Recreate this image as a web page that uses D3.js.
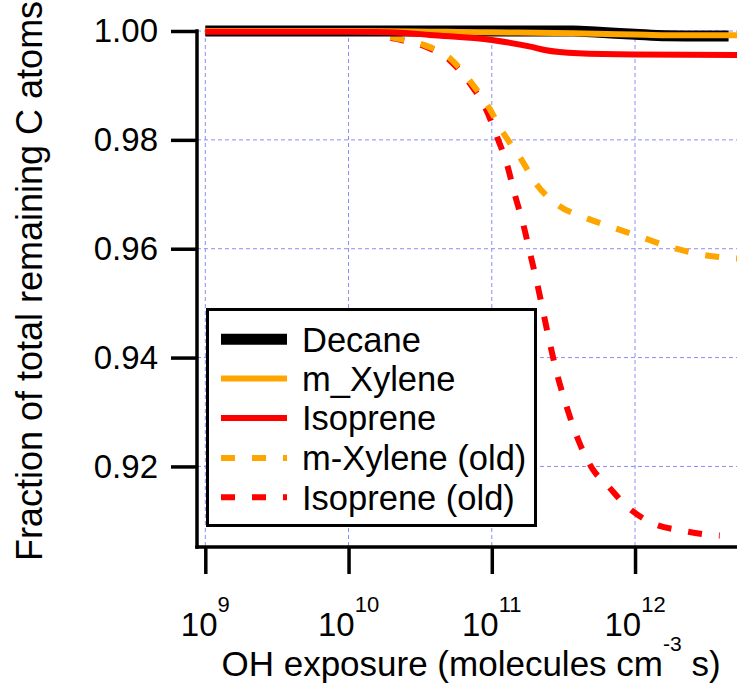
<!DOCTYPE html>
<html>
<head>
<meta charset="utf-8">
<script src="https://cdn.jsdelivr.net/npm/d3@7"></script>
<style>
  html, body { margin: 0; padding: 0; background: #fff; }
  svg { display: block; font-family: "Liberation Sans", Arial, sans-serif; }
</style>
</head>
<body>
<svg id="chart" width="737" height="689"></svg>
<script>
// ---------------- data ----------------
const xTicks = [1e9, 1e10, 1e11, 1e12];
const xTickExponents = ["9", "10", "11", "12"];
const yTicks = [1.00, 0.98, 0.96, 0.94, 0.92];

const decaneX = [1e9, 1e10, 1e11, 3.7e11, 5.6e11, 1e12, 1.66e12, 4.5e12];
const decaneY = [1.0, 1.0, 1.0, 1.0, 0.99975, 0.9994, 0.99912, 0.99908];

const mXyleneX = [1e9, 1e10, 1e11, 3.7e11, 1e12, 1.66e12, 5.2e12];
const mXyleneY = [1.0, 1.0, 0.99975, 0.9996, 0.99935, 0.99922, 0.9992];

const isopreneX = [1e9, 1e10, 2.3e10, 3.7e10, 1e11, 1.86e11, 2.34e11, 4e11, 1e12, 5.2e12];
const isopreneY = [0.99988, 0.99985, 0.99969, 0.99927, 0.99835, 0.99712, 0.99651, 0.9959, 0.99568, 0.99559];

const mXyleneOldX = [1e9, 1e10, 1.5e10, 1.95e10, 3.4e10, 5.1e10, 7.1e10, 9.5e10, 1.2e11, 1.58e11,
  2.07e11, 2.9e11, 4.5e11, 7.2e11, 1.14e12, 1.82e12, 2.95e12, 4.5e12, 5.2e12];
const mXyleneOldY = [1.0, 0.99998, 0.9997, 0.9989, 0.9974, 0.9950, 0.9907, 0.9860, 0.9813, 0.9767,
  0.9717, 0.9680, 0.9657, 0.9638, 0.9620, 0.9602, 0.9589, 0.9583, 0.9582];

const isopreneOldX = [1e9, 1e10, 1.5e10, 1.95e10, 3.4e10, 5.1e10, 7.1e10, 8.98e10, 1.09e11, 1.28e11,
  1.45e11, 1.65e11, 1.85e11, 2.07e11, 2.47e11, 2.81e11, 3.3e11, 4.01e11, 5.09e11, 6.38e11,
  8.81e11, 1.32e12, 2.14e12, 3.44e12, 3.9e12];
const isopreneOldY = [1.0, 0.99998, 0.9997, 0.9988, 0.9972, 0.9946, 0.9902, 0.9860, 0.9805, 0.9754,
  0.9699, 0.9647, 0.9592, 0.9537, 0.9442, 0.9377, 0.9313, 0.9249, 0.9194, 0.9166,
  0.9126, 0.9096, 0.9082, 0.9074, 0.9073];

const seriesNames = ["Decane", "m_Xylene", "Isoprene", "m-Xylene (old)", "Isoprene (old)"];
const seriesColors = ["#000000", "#FFA500", "#FF0000", "#FFA500", "#FF0000"];

// ---------------- layout ----------------
const svg = d3.select("#chart");
const W = 737, H = 689;
const plot = { left: 205.3, right: 737, top: 31, bottom: 547 };
const axisX = 197;      // y-axis line position
const axisY = 547;      // x-axis line position

const x = d3.scaleLog().domain([1e9, 5.15e12]).range([plot.left, plot.right]);
const y = d3.scaleLinear().domain([0.9052, 1.0]).range([plot.bottom, plot.top]);

const gridColor = "#8c8cf8";

// grid
const grid = svg.append("g");
grid.selectAll("line.vg").data(xTicks).enter().append("line")
  .attr("x1", d => x(d)).attr("x2", d => x(d))
  .attr("y1", y(1.0)).attr("y2", plot.bottom)
  .attr("stroke", gridColor).attr("stroke-width", 1).attr("stroke-dasharray", "4,3");
grid.selectAll("line.hg").data(yTicks).enter().append("line")
  .attr("x1", axisX).attr("x2", W)
  .attr("y1", d => y(d)).attr("y2", d => y(d))
  .attr("stroke", gridColor).attr("stroke-width", 1).attr("stroke-dasharray", "4,3");

// axes
const yAxis = d3.axisLeft(y).tickValues(yTicks).tickSize(26).tickPadding(13)
  .tickFormat(d3.format(".2f"));
const gy = svg.append("g").attr("transform", `translate(${axisX},0)`).call(yAxis);
gy.select(".domain").remove();
gy.selectAll(".tick line").attr("stroke", "#000").attr("stroke-width", 3.5);
gy.selectAll(".tick text").attr("font-size", 33).attr("fill", "#000")
  .attr("font-family", "Liberation Sans, Arial, sans-serif");

const xAxis = d3.axisBottom(x).tickValues(xTicks).tickSize(27).tickFormat("");
const gx = svg.append("g").attr("transform", `translate(0,${axisY})`).call(xAxis);
gx.select(".domain").remove();
gx.selectAll(".tick line").attr("stroke", "#000").attr("stroke-width", 3.5);

// axis lines
svg.append("line").attr("x1", axisX).attr("x2", axisX)
  .attr("y1", y(1.0) - 1.75).attr("y2", axisY + 1.75)
  .attr("stroke", "#000").attr("stroke-width", 3.5);
svg.append("line").attr("x1", axisX - 1.75).attr("x2", W)
  .attr("y1", axisY).attr("y2", axisY)
  .attr("stroke", "#000").attr("stroke-width", 3.5);

// x tick labels with superscripts
const xl = svg.append("g");
xTicks.forEach((t, i) => {
  const tx = xl.append("text").attr("x", x(t)).attr("y", 636)
    .attr("text-anchor", "middle").attr("font-size", 33).attr("fill", "#000");
  tx.append("tspan").text("10");
  tx.append("tspan").attr("dy", -24).attr("font-size", 22).text(xTickExponents[i]);
});

// axis titles
const xt = svg.append("text").attr("x", 471).attr("y", 676)
  .attr("text-anchor", "middle").attr("font-size", 35).attr("fill", "#000");
xt.append("tspan").text("OH exposure (molecules cm");
xt.append("tspan").attr("dy", -25).attr("font-size", 21).text("-3");
xt.append("tspan").attr("dy", 25).text(" s)");

svg.append("text")
  .attr("transform", "translate(42,281) rotate(-90)")
  .attr("text-anchor", "middle").attr("font-size", 36).attr("fill", "#000")
  .text("Fraction of total remaining C atoms");

// lines
const line = d3.line().x(d => x(d[0])).y(d => y(d[1])).curve(d3.curveMonotoneX);
const zip = (a, b) => a.map((v, i) => [v, b[i]]);
const series = [
  { name: seriesNames[0], pts: zip(decaneX, decaneY), color: seriesColors[0], w: 11, dash: null },
  { name: seriesNames[1], pts: zip(mXyleneX, mXyleneY), color: seriesColors[1], w: 6, dash: null },
  { name: seriesNames[2], pts: zip(isopreneX, isopreneY), color: seriesColors[2], w: 6, dash: null },
  { name: seriesNames[3], pts: zip(mXyleneOldX, mXyleneOldY), color: seriesColors[3], w: 6, dash: "14,17" },
  { name: seriesNames[4], pts: zip(isopreneOldX, isopreneOldY), color: seriesColors[4], w: 6, dash: "14,17" }
];
const drawOrder = [4, 3, 0, 1, 2];
const lg = svg.append("g");
drawOrder.forEach(i => {
  const s = series[i];
  lg.append("path").attr("d", line(s.pts)).attr("fill", "none")
    .attr("stroke", s.color).attr("stroke-width", s.w)
    .attr("stroke-dasharray", s.dash).attr("stroke-linejoin", "round");
});

// legend
const leg = svg.append("g");
leg.append("rect").attr("x", 207.5).attr("y", 309.5).attr("width", 328).attr("height", 216)
  .attr("fill", "#fff").attr("stroke", "#000").attr("stroke-width", 3);
const rowY = [339.3, 378.6, 417.9, 457.9, 497.3];
series.forEach((s, i) => {
  leg.append("line").attr("x1", 221).attr("x2", 287).attr("y1", rowY[i]).attr("y2", rowY[i])
    .attr("stroke", s.color).attr("stroke-width", s.w).attr("stroke-dasharray", s.dash);
  leg.append("text").attr("x", 302).attr("y", rowY[i] + 12.5)
    .attr("font-size", 34.5).attr("fill", "#000").text(s.name);
});
</script>
</body>
</html>
